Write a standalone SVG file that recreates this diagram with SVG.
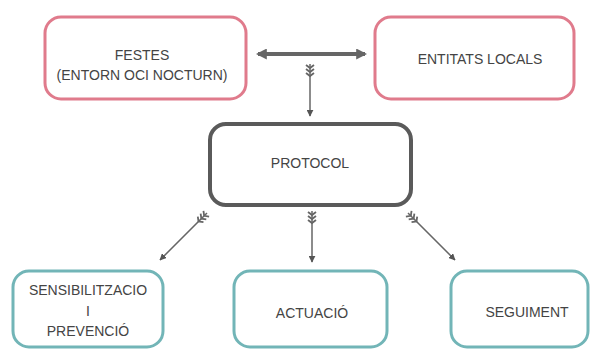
<svg xmlns="http://www.w3.org/2000/svg" width="596" height="350" viewBox="0 0 596 350">
<style>
.pink{fill:#fff;stroke:#e07b8c;stroke-width:3}
.teal{fill:#fff;stroke:#72b5b7;stroke-width:3}
.dark{fill:#fff;stroke:#5a5a5a;stroke-width:4}
text{font-family:"Liberation Sans",Arial,sans-serif;font-size:14px;fill:#444;text-anchor:middle}
.ln{stroke:#666;stroke-width:1.5;fill:none}
</style>
<defs>
<marker id="head" viewBox="0 0 10 10" refX="9" refY="5" markerWidth="7" markerHeight="7" markerUnits="userSpaceOnUse" orient="auto"><path d="M0,0 L10,5 L0,10 z" fill="#555"/></marker>
<marker id="fletch" viewBox="0 -5 14 10" refX="0" refY="0" markerWidth="14" markerHeight="10" markerUnits="userSpaceOnUse" orient="auto"><path d="M1,-4 L4,0 L1,4 M5,-4 L8,0 L5,4 M9,-4 L12,0 L9,4" fill="none" stroke="#666" stroke-width="1.8"/></marker>
<marker id="bighead" viewBox="0 0 10 10" refX="8" refY="5" markerWidth="11" markerHeight="11" markerUnits="userSpaceOnUse" orient="auto-start-reverse"><path d="M0,0 L10,5 L0,10 z" fill="#666"/></marker>
</defs>
<g id="festes"><rect class="pink" x="45" y="17" width="201" height="82" rx="16"/><text x="142" y="60">FESTES</text><text x="142" y="80">(ENTORN OCI NOCTURN)</text></g>
<g id="entitats"><rect class="pink" x="375" y="17" width="199" height="82" rx="16"/><text x="480" y="64">ENTITATS LOCALS</text></g>
<g id="protocol"><rect class="dark" x="210" y="124" width="201" height="81" rx="16"/><text x="310" y="168">PROTOCOL</text></g>
<g id="sensibilitzacio"><rect class="teal" x="13" y="271" width="150" height="76" rx="16"/><text x="88" y="295">SENSIBILITZACIO</text><text x="88" y="316">I</text><text x="88" y="336">PREVENCIÓ</text></g>
<g id="actuacio"><rect class="teal" x="234" y="271" width="153" height="76" rx="16"/><text x="312" y="318">ACTUACIÓ</text></g>
<g id="seguiment"><rect class="teal" x="451" y="271" width="137" height="76" rx="16"/><text x="527" y="317">SEGUIMENT</text></g>
<g id="connectors">
<path d="M258,54 L365,54" stroke="#666" stroke-width="4" marker-start="url(#bighead)" marker-end="url(#bighead)"/>
<path class="ln" d="M310,64 L310,116" marker-start="url(#fletch)" marker-end="url(#head)"/>
<path class="ln" d="M207,213 L160,260" marker-start="url(#fletch)" marker-end="url(#head)"/>
<path class="ln" d="M312,211 L312,262" marker-start="url(#fletch)" marker-end="url(#head)"/>
<path class="ln" d="M408,213 L455,260" marker-start="url(#fletch)" marker-end="url(#head)"/>
</g>
</svg>
